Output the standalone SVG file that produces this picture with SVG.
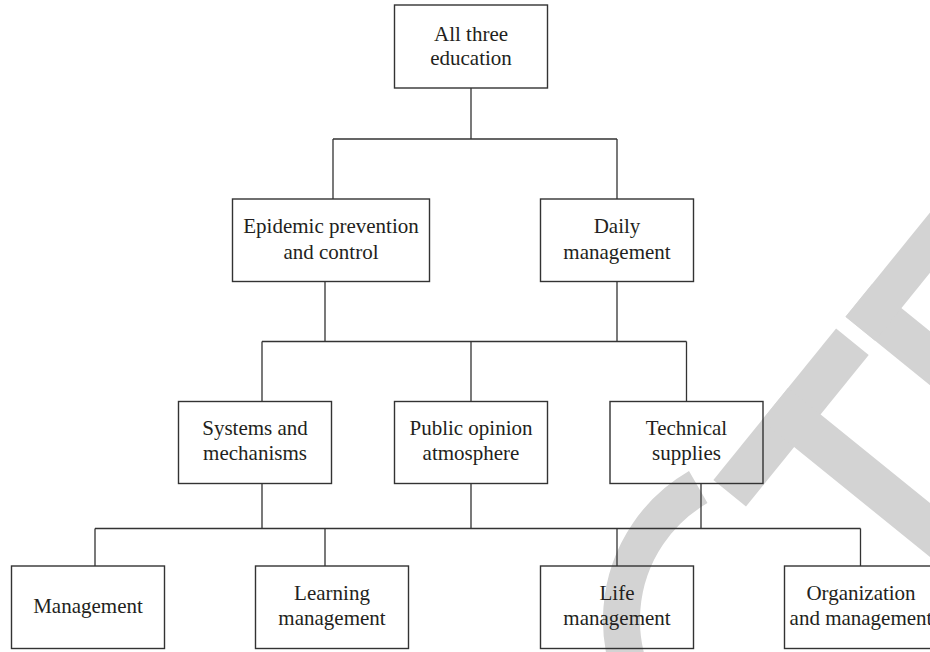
<svg xmlns="http://www.w3.org/2000/svg" width="930" height="652" viewBox="0 0 930 652">
<style>
.box{fill:none;stroke:#333;stroke-width:1.4}
.lbl{font-family:"Liberation Serif","Times New Roman",serif;font-size:21px;fill:#231f20;text-anchor:middle}
.con{fill:none;stroke:#333;stroke-width:1.3}
.wm{fill:#d3d3d3}
</style>
<rect width="930" height="652" fill="#fff"/>
<g id="watermark" transform="translate(775,620) rotate(-51)">
<path d="M55,-143.3 A153.5,153.5 0 1 0 55,143.3" fill="none" stroke="#d3d3d3" stroke-width="37"/>
<rect class="wm" x="70" y="-136" width="195" height="42"/>
<rect class="wm" x="146.5" y="-136" width="42" height="272"/>
<rect class="wm" x="280" y="-136" width="42" height="272"/>
<rect class="wm" x="280" y="-136" width="180" height="38"/>
<rect class="wm" x="280" y="-19" width="165" height="38"/>
<rect class="wm" x="280" y="98" width="180" height="38"/>
</g>
<g id="connectors" class="con">
<path d="M471,88 V139 M333,139 H617 M333,139 V199 M617,139 V199"/>
<path d="M325,281.5 V341.5 M617,281.5 V341.5 M262,341.5 H686.5 M262,341.5 V401.5 M471,341.5 V401.5 M686.5,341.5 V401.5"/>
<path d="M262,483.5 V528.5 M471,483.5 V528.5 M701,483.5 V528.5 M95,528.5 H860.5 M95,528.5 V566 M325,528.5 V566 M617,528.5 V566 M860.5,528.5 V566"/>
</g>
<g id="n-root">
<rect class="box" x="394.5" y="5" width="153" height="83"/>
<text class="lbl" x="471" y="40.5">All three</text>
<text class="lbl" x="471" y="65">education</text>
</g>
<g id="n-epidemic">
<rect class="box" x="232.5" y="199" width="197" height="82.5"/>
<text class="lbl" x="331" y="233">Epidemic prevention</text>
<text class="lbl" x="331" y="258.5">and control</text>
</g>
<g id="n-daily">
<rect class="box" x="540.5" y="199" width="153" height="82.5"/>
<text class="lbl" x="617" y="233">Daily</text>
<text class="lbl" x="617" y="258.5">management</text>
</g>
<g id="n-systems">
<rect class="box" x="178.5" y="401.5" width="153" height="82"/>
<text class="lbl" x="255" y="435">Systems and</text>
<text class="lbl" x="255" y="460">mechanisms</text>
</g>
<g id="n-public">
<rect class="box" x="394.5" y="401.5" width="153" height="82"/>
<text class="lbl" x="471" y="435">Public opinion</text>
<text class="lbl" x="471" y="460">atmosphere</text>
</g>
<g id="n-technical">
<rect class="box" x="610" y="401.5" width="153" height="82"/>
<text class="lbl" x="686.5" y="435">Technical</text>
<text class="lbl" x="686.5" y="460">supplies</text>
</g>
<g id="n-management">
<rect class="box" x="11.5" y="566" width="153" height="82.5"/>
<text class="lbl" x="88" y="612.5">Management</text>
</g>
<g id="n-learning">
<rect class="box" x="255.5" y="566" width="153" height="82.5"/>
<text class="lbl" x="332" y="600">Learning</text>
<text class="lbl" x="332" y="625">management</text>
</g>
<g id="n-life">
<rect class="box" x="540.5" y="566" width="153" height="82.5"/>
<text class="lbl" x="617" y="600">Life</text>
<text class="lbl" x="617" y="625">management</text>
</g>
<g id="n-organization">
<rect class="box" x="784.5" y="566" width="153" height="82.5"/>
<text class="lbl" x="861" y="600">Organization</text>
<text class="lbl" x="861" y="625">and management</text>
</g>
</svg>
